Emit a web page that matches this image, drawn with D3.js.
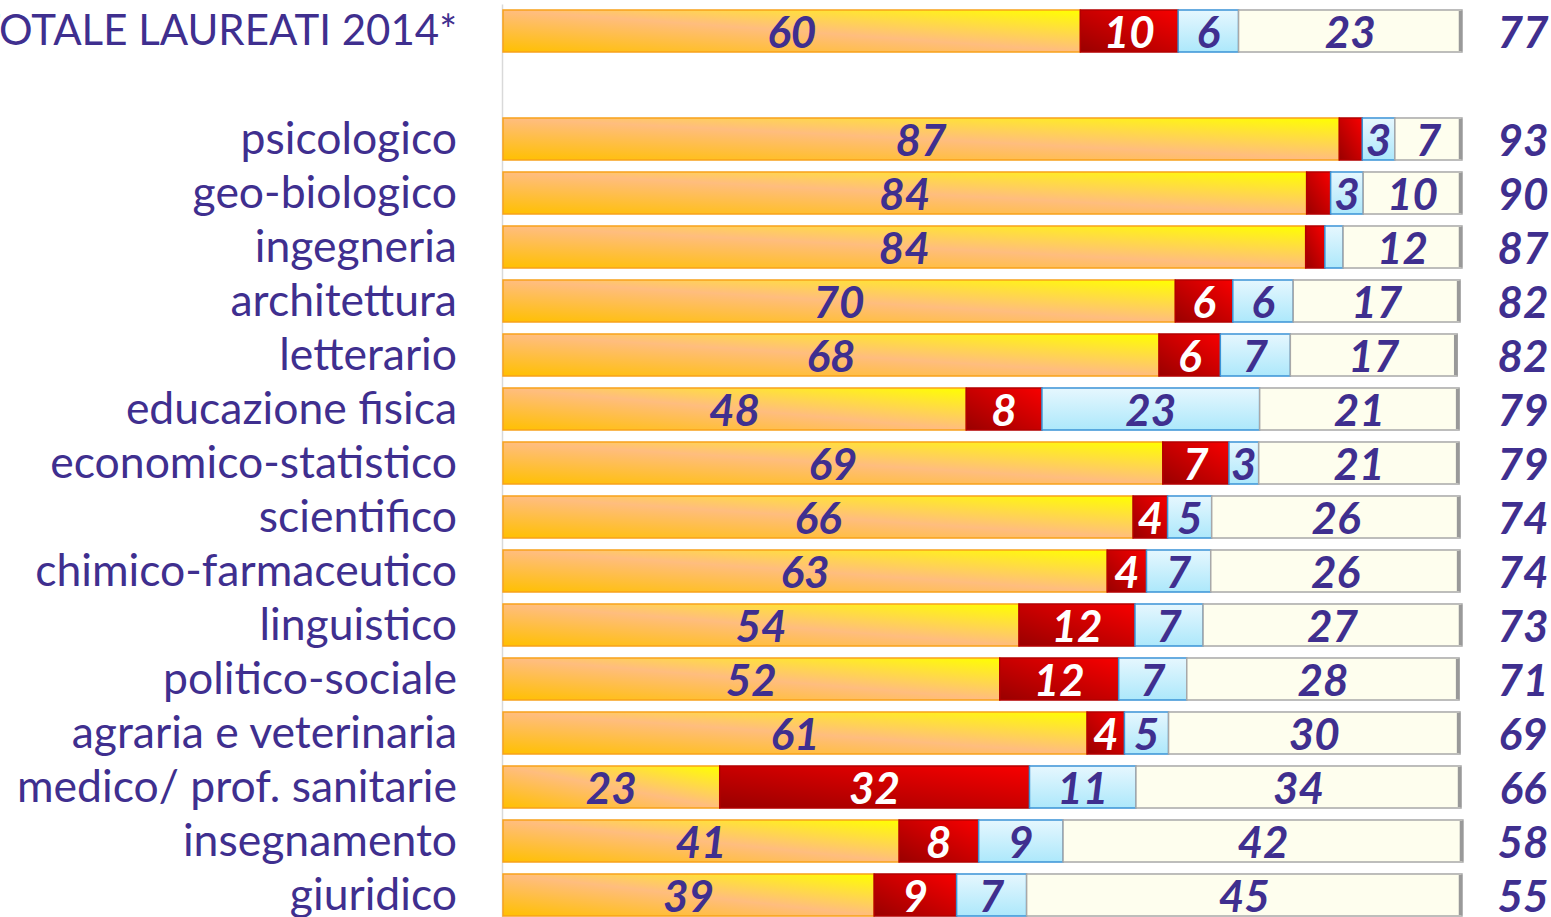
<!DOCTYPE html>
<html>
<head>
<meta charset="utf-8">
<script src="https://cdn.jsdelivr.net/npm/d3@7"></script>
<style>
  body { margin: 0; background: #fff; overflow: hidden; }
  svg { display: block; }
</style>
</head>
<body>
<svg id="chart" width="1551" height="917"></svg>
<script>
// categorie (la prima riga e' il totale, poi una riga vuota)
const categories = ["TOTALE LAUREATI 2014*", "psicologico", "geo-biologico", "ingegneria", "architettura",
  "letterario", "educazione fisica", "economico-statistico", "scientifico", "chimico-farmaceutico",
  "linguistico", "politico-sociale", "agraria e veterinaria", "medico/ prof. sanitarie", "insegnamento", "giuridico"];

// valori percentuali
const lavorano   = [60.2, 87.2, 83.8, 83.7, 70.1, 68.4, 48.3, 68.8, 65.7, 63.0, 53.8, 51.8, 60.9, 22.6, 41.3, 38.7];
const cercano    = [10.2, 2.4, 2.5, 2.0, 6.0, 6.4, 7.9, 6.9, 3.6, 4.1, 12.1, 12.4, 3.9, 32.3, 8.3, 8.6];
const formazione = [6.3, 3.4, 3.4, 1.9, 6.3, 7.3, 22.7, 3.1, 4.6, 6.7, 7.1, 7.1, 4.6, 11.1, 8.8, 7.3];
const altro      = [23.3, 7.0, 10.3, 12.4, 17.4, 17.4, 20.8, 20.9, 25.9, 26.0, 27.0, 28.4, 30.4, 33.9, 41.7, 45.4];
const totali     = [77, 93, 90, 87, 82, 82, 79, 79, 74, 74, 73, 71, 69, 66, 58, 55];

const GAP = "__gap";
const PURPLE = "#3f2f8f";
const FONT = "Lato, 'Open Sans', sans-serif";

const data = categories.map((c, i) => ({
  name: c, lavorano: lavorano[i], cercano: cercano[i], formazione: formazione[i], altro: altro[i], totale: totali[i]
}));

const keys = ["lavorano", "cercano", "formazione", "altro"];
const fills = { lavorano: "url(#gOrange)", cercano: "url(#gRed)", formazione: "url(#gBlue)", altro: "#fefeee" };
const strokes = { lavorano: "#f8a21c", cercano: "#b30000", formazione: "#3a93d6", altro: "#a8a8a8" };

let svg = d3.select("#chart");

// gradienti
const defs = svg.append("defs");
function grad(id, x1, y1, x2, y2, stops) {
  const g = defs.append("linearGradient").attr("id", id)
    .attr("x1", x1).attr("y1", y1).attr("x2", x2).attr("y2", y2);
  stops.forEach(s => g.append("stop").attr("offset", s[0]).attr("stop-color", s[1]));
}
grad("gOrange", 0, 1, 1, 0, [[0, "#ffc000"], [0.5, "#ffbd7e"], [1, "#ffff00"]]);
grad("gRed", 0, 1, 1, 0, [[0, "#990000"], [1, "#f80000"]]);
grad("gBlue", 0, 0, 0, 1, [[0, "#e6f7fe"], [1, "#ade8fb"]]);

// scale
const x = d3.scaleLinear().domain([0, 100]).range([503, 1462]);
const yDomain = [categories[0], GAP, ...categories.slice(1)];
const y = d3.scaleBand().domain(yDomain).range([4, 4 + 54 * yDomain.length]).paddingInner(0.222).paddingOuter(0.111);

const stacked = d3.stack().keys(keys)(data);

// asse verticale con etichette
const axis = svg.append("g")
  .attr("transform", "translate(502,0)")
  .call(d3.axisLeft(y).tickSize(0).tickPadding(45).tickSizeOuter(0).tickFormat(d => d === GAP ? "" : d));
axis.select(".domain").attr("stroke", "#d9d9d9").attr("stroke-width", 1.5);
axis.selectAll("text")
  .attr("fill", PURPLE)
  .attr("font-family", FONT)
  .attr("font-size", d => d === categories[0] ? 42 : 44.5)
  .attr("dy", "0.33em");

// barre
const layers = svg.selectAll(".layer")
  .data(stacked)
  .enter()
  .append("g")
  .attr("class", "layer");

layers.selectAll("rect")
  .data(s => s.map(d => ({ key: s.key, d })))
  .enter()
  .append("rect")
  .attr("x", o => x(o.d[0]))
  .attr("y", o => y(o.d.data.name))
  .attr("width", o => x(o.d[1]) - x(o.d[0]))
  .attr("height", y.bandwidth())
  .attr("fill", o => fills[o.key])
  .attr("stroke", o => strokes[o.key])
  .attr("stroke-width", 1.5);

// bordo destro grigio
svg.selectAll(".edge")
  .data(stacked[3])
  .enter()
  .append("line")
  .attr("x1", d => x(d[1]) - 1.5)
  .attr("x2", d => x(d[1]) - 1.5)
  .attr("y1", d => y(d.data.name) + 1)
  .attr("y2", d => y(d.data.name) + y.bandwidth() - 1)
  .attr("stroke", "#999")
  .attr("stroke-width", 3.5);

// etichette dei segmenti
layers.selectAll("text")
  .data(s => s.map(d => ({ key: s.key, d })).filter(o => o.d[1] - o.d[0] >= 3))
  .enter()
  .append("text")
  .attr("x", o => (x(o.d[0]) + x(o.d[1])) / 2)
  .attr("y", o => y(o.d.data.name) + y.bandwidth() / 2 + 17)
  .attr("text-anchor", "middle")
  .attr("font-family", FONT)
  .attr("font-weight", "bold")
  .attr("font-style", "italic")
  .attr("font-size", 44)
  .attr("fill", o => o.key === "cercano" ? "#fff" : PURPLE)
  .text(o => Math.round(o.d[1] - o.d[0]));

// totali a destra
svg.selectAll(".tot")
  .data(data)
  .enter()
  .append("text")
  .attr("class", "tot")
  .attr("x", 1523)
  .attr("y", d => y(d.name) + y.bandwidth() / 2 + 17)
  .attr("text-anchor", "middle")
  .attr("font-family", FONT)
  .attr("font-weight", "bold")
  .attr("font-style", "italic")
  .attr("font-size", 44)
  .attr("fill", PURPLE)
  .text(d => d.totale);
</script>
</body>
</html>
